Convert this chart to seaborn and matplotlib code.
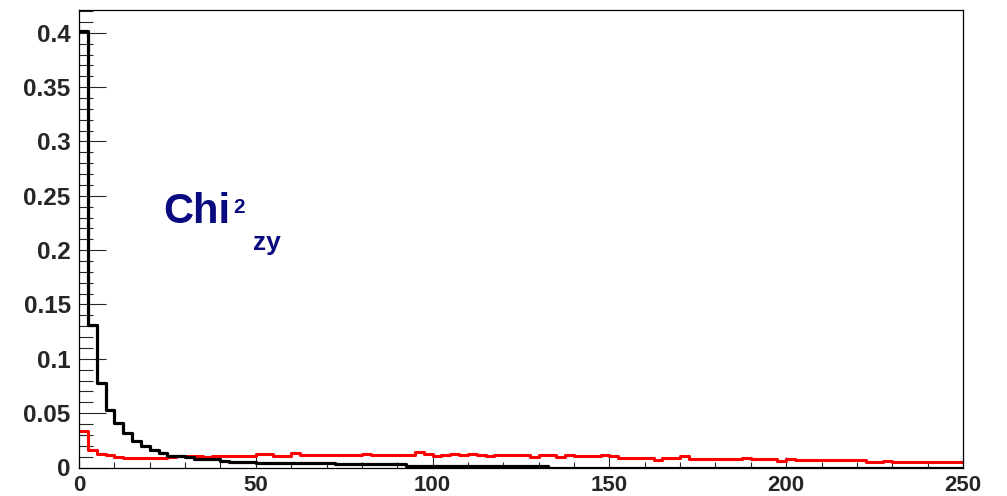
import numpy as np
import pandas as pd
import matplotlib
matplotlib.use("Agg")
import matplotlib.pyplot as plt
import seaborn as sns
from matplotlib.ticker import MultipleLocator

# ---- data (100 bins of width 2.5 between 0 and 250) ----
x_min, x_max, n_bins = 0.0, 250.0, 100

black_values = [
    0.402, 0.1307, 0.0776, 0.0525, 0.041, 0.0318, 0.024, 0.0195, 0.0159, 0.0134,
    0.011, 0.0102, 0.0095, 0.0080, 0.0078, 0.0076, 0.0058, 0.0055, 0.0053, 0.0052,
    0.0042, 0.0041, 0.0040, 0.0040, 0.0041, 0.0042, 0.0042, 0.0041, 0.0040, 0.0030,
    0.0030, 0.0030, 0.0030, 0.0030, 0.0030, 0.0030, 0.0030, 0.0018, 0.0018, 0.0018,
    0.0018, 0.0018, 0.0018, 0.0018, 0.0018, 0.0016, 0.0015, 0.0013, 0.0012, 0.0012,
    0.0012, 0.0012, 0.0012, 0.0, 0.0, 0.0, 0.0, 0.0, 0.0, 0.0,
    0.0, 0.0, 0.0, 0.0, 0.0, 0.0, 0.0, 0.0, 0.0, 0.0,
    0.0, 0.0, 0.0, 0.0, 0.0, 0.0, 0.0, 0.0, 0.0, 0.0,
    0.0, 0.0, 0.0, 0.0, 0.0, 0.0, 0.0, 0.0, 0.0, 0.0,
    0.0, 0.0, 0.0, 0.0, 0.0, 0.0, 0.0, 0.0, 0.0, 0.0,
]

red_values = [
    0.0340, 0.0158, 0.0128, 0.0113, 0.0100, 0.0092, 0.0090, 0.0089, 0.0088, 0.0088,
    0.0095, 0.0104, 0.0110, 0.0110, 0.0098, 0.0110, 0.0110, 0.0110, 0.0110, 0.0110,
    0.0122, 0.0122, 0.0110, 0.0110, 0.0131, 0.0119, 0.0119, 0.0113, 0.0113, 0.0113,
    0.0113, 0.0113, 0.0128, 0.0113, 0.0113, 0.0113, 0.0113, 0.0113, 0.0140, 0.0128,
    0.0104, 0.0113, 0.0128, 0.0113, 0.0128, 0.0113, 0.0104, 0.0113, 0.0113, 0.0113,
    0.0113, 0.0098, 0.0113, 0.0113, 0.0098, 0.0113, 0.0104, 0.0104, 0.0104, 0.0116,
    0.0104, 0.0089, 0.0089, 0.0089, 0.0089, 0.0073, 0.0092, 0.0092, 0.0107, 0.0079,
    0.0079, 0.0079, 0.0079, 0.0075, 0.0075, 0.0089, 0.0079, 0.0079, 0.0079, 0.0064,
    0.0079, 0.0067, 0.0067, 0.0067, 0.0067, 0.0067, 0.0067, 0.0067, 0.0067, 0.0052,
    0.0052, 0.0064, 0.0052, 0.0052, 0.0052, 0.0052, 0.0052, 0.0052, 0.0052, 0.0052,
]

x_ticks = [0, 50, 100, 150, 200, 250]
y_ticks = [0, 0.05, 0.1, 0.15, 0.2, 0.25, 0.3, 0.35, 0.4]
y_tick_labels = ["0", "0.05", "0.1", "0.15", "0.2", "0.25", "0.3", "0.35", "0.4"]

bin_width = (x_max - x_min) / n_bins
centers = x_min + bin_width * (np.arange(n_bins) + 0.5)
df_black = pd.DataFrame({"chi2": centers, "w": black_values})
df_red = pd.DataFrame({"chi2": centers, "w": red_values})

# ---- plot ----
sns.set_style("ticks")
plt.rcParams["font.family"] = ["Liberation Sans", "DejaVu Sans"]

fig = plt.figure(figsize=(10.07, 4.96), dpi=100)
ax = fig.add_axes([79 / 1007, 1 - 467.5 / 496, (963 - 79) / 1007, (467.5 - 10) / 496])

sns.histplot(data=df_red, x="chi2", weights="w", binwidth=bin_width,
             binrange=(x_min, x_max), element="step", fill=False,
             color="#ff0000", linewidth=2.2, ax=ax)
sns.histplot(data=df_black, x="chi2", weights="w", binwidth=bin_width,
             binrange=(x_min, x_max), element="step", fill=False,
             color="black", linewidth=2.3, ax=ax)

ax.set_xlim(x_min, x_max)
ax.set_ylim(0, 0.421)
ax.set_xlabel("")
ax.set_ylabel("")

ax.set_xticks(x_ticks)
ax.set_xticklabels([str(t) for t in x_ticks])
ax.set_yticks(y_ticks)
ax.set_yticklabels(y_tick_labels)
ax.xaxis.set_minor_locator(MultipleLocator(10))
ax.yaxis.set_minor_locator(MultipleLocator(0.01))

ax.tick_params(axis="x", which="major", direction="in", length=8, width=0.8,
               labelsize=16, pad=5.5, top=False)
ax.tick_params(axis="x", which="minor", direction="in", length=4.3, width=0.8, top=False)
ax.tick_params(axis="y", which="major", direction="in", length=19.5, width=0.8,
               labelsize=17.5, pad=6, right=False)
ax.tick_params(axis="y", which="minor", direction="in", length=10, width=0.8, right=False)
for lab in ax.get_xticklabels() + ax.get_yticklabels():
    lab.set_fontweight("bold")

for s in ax.spines.values():
    s.set_visible(True)
    s.set_linewidth(0.9)
    s.set_color("black")

navy = "#0a0a80"
fig.text(163 / 1007, 1 - 223 / 496, "Chi", color=navy, fontsize=30, fontweight="bold",
         va="baseline", ha="left")
fig.text(233 / 1007, 1 - 213 / 496, "2", color=navy, fontsize=15, fontweight="bold",
         va="baseline", ha="left")
fig.text(253 / 1007, 1 - 250 / 496, "zy", color=navy, fontsize=19, fontweight="bold",
         va="baseline", ha="left")

fig.savefig("out.png", dpi=100)
